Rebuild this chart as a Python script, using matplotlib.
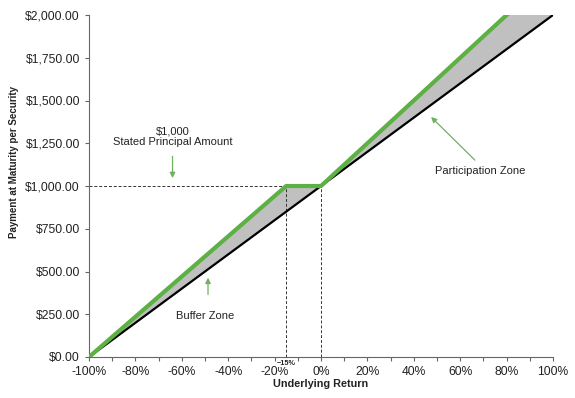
import matplotlib.pyplot as plt
from matplotlib.ticker import FuncFormatter

plt.rcParams['font.family'] = ['Liberation Sans', 'DejaVu Sans']

# data (underlying return in %, payment in $)
returns = [-100, -15, 0, 100]
note_payment = [0, 1000, 1000, 2250]
underlying_payment = [0, 850, 1000, 2000]
buffer_level = -15
principal = 1000

x_ticks = list(range(-100, 101, 20))
y_ticks = list(range(0, 2001, 250))

fig = plt.figure(figsize=(5.75, 3.98), dpi=100)
ax = fig.add_axes([89 / 575, 41 / 398, 464 / 575, 342 / 398])

ax.fill_between(returns, underlying_payment, note_payment, color='#c0c0c0', lw=0)
ax.plot(returns, underlying_payment, color='black', lw=1.6, zorder=3)
ax.plot(returns, note_payment, color='#5db043', lw=3, zorder=4, solid_capstyle='butt')

# dashed guides
ax.plot([-100, buffer_level], [principal, principal], ls=(0, (3, 2)), color='#333333', lw=0.7)
ax.plot([buffer_level, buffer_level], [0, principal], ls=(0, (3, 2)), color='#333333', lw=0.7)
ax.plot([0, 0], [0, principal], ls=(0, (3, 2)), color='#333333', lw=0.7)

ax.set_xlim(-100, 100)
ax.set_ylim(0, 2000)
ax.set_xticks(x_ticks)
ax.set_xticks(range(-100, 101, 10), minor=True)
ax.set_yticks(y_ticks)
ax.xaxis.set_major_formatter(FuncFormatter(lambda v, p: f'{v:.0f}%'))
ax.yaxis.set_major_formatter(FuncFormatter(lambda v, p: f'${v:,.2f}'))
ax.tick_params(labelsize=8.7, labelcolor='#222222', color='#666666', length=3, width=0.8)
ax.tick_params(which='minor', color='#666666', length=3, width=0.8)
for s in ['top', 'right']:
    ax.spines[s].set_visible(False)
for s in ['left', 'bottom']:
    ax.spines[s].set_color('#666666')

ax.set_xlabel('Underlying Return', fontsize=7.8, fontweight='bold', labelpad=1, color='#222222')
ax.set_ylabel('Payment at Maturity per Security', fontsize=7, fontweight='bold', color='#222222')
ax.yaxis.set_label_coords(-0.15, 0.57)

ax.text(buffer_level, -15, '\u221215%', fontsize=5.2, ha='center', va='top', fontweight='bold',
        color='#222222', bbox=dict(facecolor='white', edgecolor='none', pad=0.3))

arrow = dict(arrowstyle='-|>', color='#72b060', lw=0.9, mutation_scale=8)
txt = dict(fontsize=8, ha='center', va='center', color='#222222')
ax.text(-64, 1290, '$1,000\nStated Principal Amount', linespacing=1.1, **txt)
ax.annotate('', xy=(-64, 1030), xytext=(-64, 1190), arrowprops=arrow)
ax.text(-50, 240, 'Buffer Zone', **txt)
ax.annotate('', xy=(-48.7, 480), xytext=(-48.7, 350), arrowprops=arrow)
ax.text(68.5, 1085, 'Participation Zone', **txt)
ax.annotate('', xy=(46.6, 1415), xytext=(67.2, 1140), arrowprops=arrow)

fig.savefig('out.png', dpi=100)
